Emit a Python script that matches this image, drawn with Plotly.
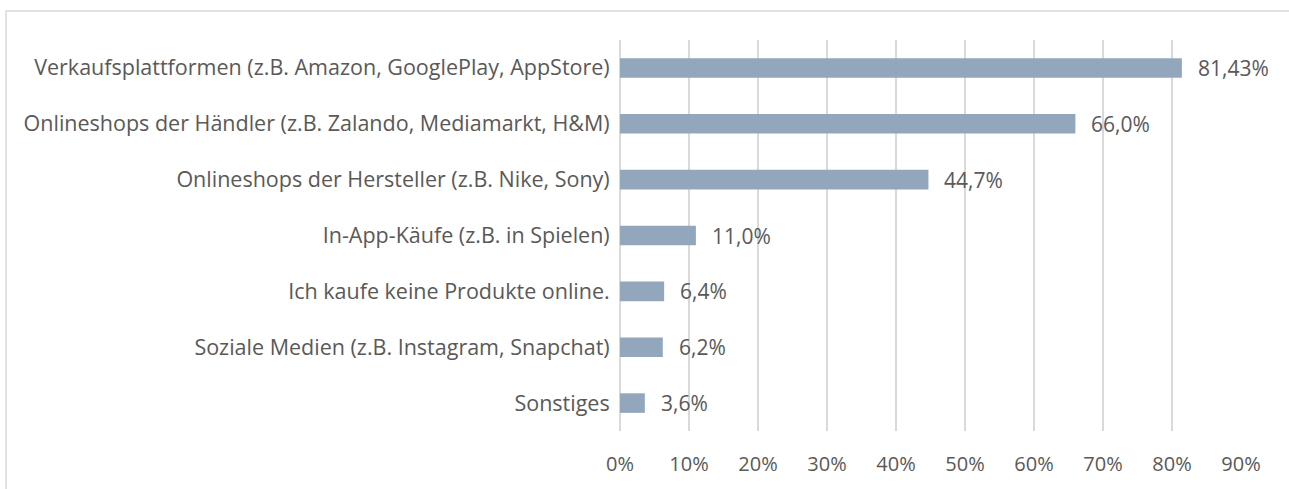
import plotly.graph_objects as go

categories = [
    "Verkaufsplattformen (z.B. Amazon, GooglePlay, AppStore)",
    "Onlineshops der Händler (z.B. Zalando, Mediamarkt, H&M)",
    "Onlineshops der Hersteller (z.B. Nike, Sony)",
    "In-App-Käufe (z.B. in Spielen)",
    "Ich kaufe keine Produkte online.",
    "Soziale Medien (z.B. Instagram, Snapchat)",
    "Sonstiges",
]
values = [81.43, 66.0, 44.7, 11.0, 6.4, 6.2, 3.6]
labels = ["81,43%", "66,0%", "44,7%", "11,0%", "6,4%", "6,2%", "3,6%"]
tick_vals = [0, 10, 20, 30, 40, 50, 60, 70, 80, 90]
tick_text = [f"{v}%" for v in tick_vals]

FONT = "'Open Sans', sans-serif"
TXT = "#595959"
GRID = "#d9d9d9"

fig = go.Figure()
fig.add_trace(go.Bar(
    x=values, y=categories, orientation="h",
    marker=dict(color="#93a7bc", line=dict(width=0)),
    width=0.35, hoverinfo="x+y",
))

for v, c, t in zip(values, categories, labels):
    fig.add_annotation(x=v, y=c, text=t, showarrow=False, xanchor="left",
                       xshift=14, font=dict(family=FONT, size=21, color=TXT))

fig.add_shape(type="rect", xref="paper", yref="paper",
              x0=-0.9887, x1=1.4, y0=-0.4, y1=1.0739,
              line=dict(color=GRID, width=1.5), fillcolor="rgba(0,0,0,0)", layer="below")

fig.update_layout(
    width=1289, height=489,
    margin=dict(l=620, r=48, t=40, b=48),
    paper_bgcolor="white", plot_bgcolor="white",
    showlegend=False,
    font=dict(family=FONT, size=20, color=TXT),
    xaxis=dict(range=[0, 90], tickvals=tick_vals, ticktext=tick_text,
               showgrid=True, gridcolor=GRID, gridwidth=1.5,
               zeroline=True, zerolinecolor=GRID, zerolinewidth=1.5,
               showline=False, ticks="outside", ticklen=15,
               tickcolor="rgba(0,0,0,0)",
               tickfont=dict(family=FONT, size=20, color=TXT)),
    yaxis=dict(categoryorder="array", categoryarray=categories,
               autorange="reversed", showgrid=False, zeroline=False,
               showline=False, ticks="outside", ticklen=5,
               tickcolor="rgba(0,0,0,0)",
               tickfont=dict(family=FONT, size=21.5, color=TXT)),
    bargap=0.65,
)

fig.write_html("out.html", config={"displayModeBar": False},
               post_script="document.body.style.margin='0px';")
